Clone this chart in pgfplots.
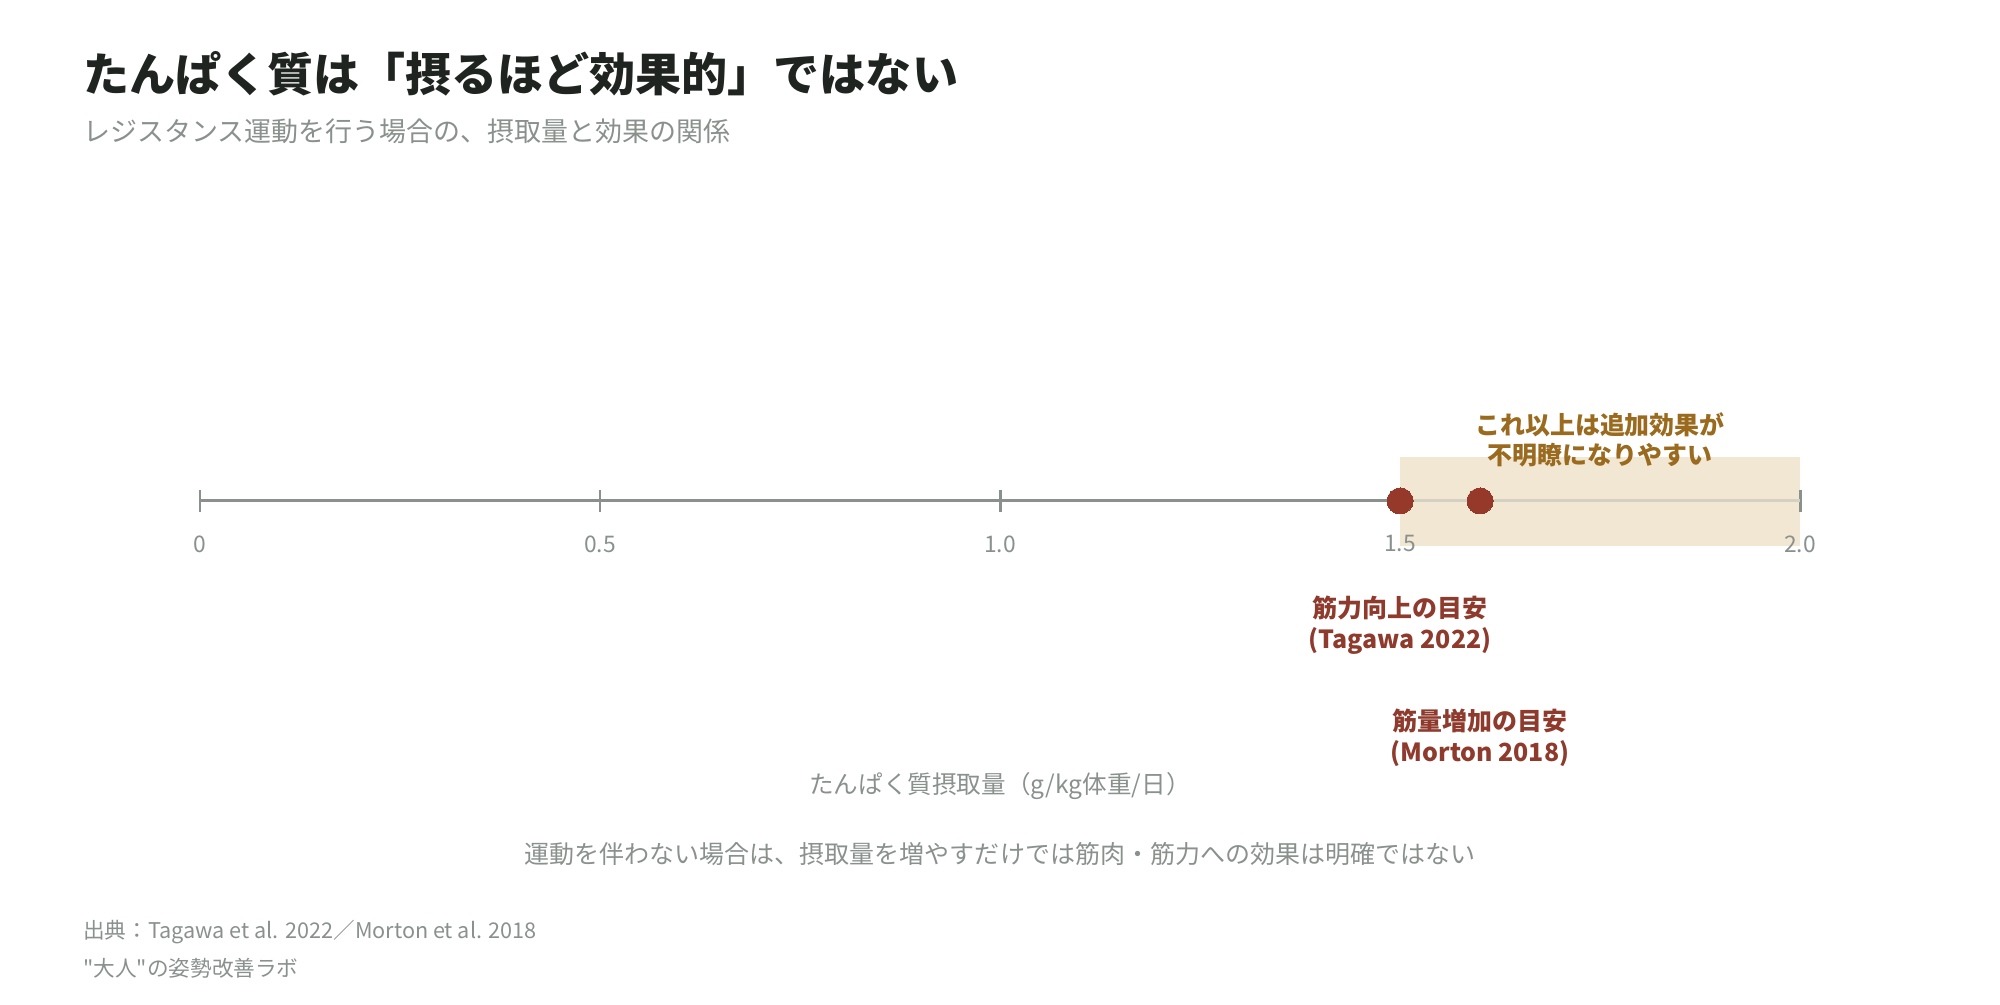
\documentclass[border=0pt]{standalone}
\usepackage{pgfplots}
\pgfplotsset{compat=1.18}
\usepackage{fontspec}
\setmainfont{Noto Sans CJK JP}
\newfontfamily\jpraw{Noto Sans CJK JP}

\definecolor{titlec}{HTML}{1F2420}
\definecolor{greyc}{HTML}{8A918D}
\definecolor{linec}{HTML}{8A918D}
\definecolor{lightline}{HTML}{D5D0C4}
\definecolor{bandc}{HTML}{F2E7D3}
\definecolor{dotc}{HTML}{96392B}
\definecolor{goldc}{HTML}{9A6A1E}
\definecolor{redc}{HTML}{8E3B2D}

% 1 px of the 2000x1004 picture = 0.01cm
\newcommand{\fs}[1]{\fontsize{#1}{1.3\dimexpr#1\relax}\selectfont}

\begin{document}
\begin{tikzpicture}
\begin{axis}[
    name=ax,
    set layers,
    scale only axis,
    width=20cm, height=10.04cm,
    xmin=-0.25, xmax=2.25,
    ymin=-503, ymax=501,
    axis x line=middle,
    axis y line=none,
    x axis line style={draw=none},
    xtick={0,0.5,1,1.5,2},
    xticklabels={0,0.5,1.0,1.5,2.0},
    tick align=center,
    major tick length=0.22cm,
    tick style={linec, line width=0.85pt},
    xticklabel style={anchor=center, yshift=-0.32cm, text=greyc, font=\fs{6.5pt}},
    /pgf/number format/assume math mode=true,
    clip=false,
]
% shaded band 1.5-2.0
\addplot[fill=bandc, draw=none, on layer=axis background] coordinates {(1.5,44) (2,44) (2,-45) (1.5,-45)} -- cycle;
% number line
\addplot[linec, line width=0.85pt] coordinates {(0,0) (1.5,0)};
\addplot[lightline, line width=0.85pt] coordinates {(1.5,0) (2,0)};
% guideline points
\addplot[only marks, color=dotc, mark=*, mark size=0.13cm, mark options={fill=dotc, draw=dotc, line width=0pt}] coordinates {(1.5,0) (1.6,0)};

% titles
\node[anchor=west, text=titlec, font=\fs{13.1pt}\bfseries, inner sep=0] at (axis cs:-0.1468,427) {たんぱく質は「摂るほど効果的」ではない};
\node[anchor=west, text=greyc, font=\fs{7.68pt}, inner sep=0] at (axis cs:-0.1468,370) {レジスタンス運動を行う場合の、摂取量と効果の関係};

% annotations
\node[align=center, text=goldc, font=\fs{7.1pt}\bfseries, inner sep=0] at (axis cs:1.75,61) {これ以上は追加効果が\\[-0.5pt]不明瞭になりやすい};
\node[align=center, text=redc, font=\fs{7.1pt}\bfseries, inner sep=0] at (axis cs:1.5,-124) {筋力向上の目安\\[-0.5pt](Tagawa 2022)};
\node[align=center, text=redc, font=\fs{7.1pt}\bfseries, inner sep=0] at (axis cs:1.6,-237) {筋量増加の目安\\[-0.5pt](Morton 2018)};

% axis label and note
\node[text=greyc, font=\fs{7.0pt}, inner sep=0] at (axis cs:1.0,-285) {たんぱく質摂取量（g/kg体重/日）};
\node[text=greyc, font=\fs{7.12pt}, inner sep=0] at (axis cs:1.0,-353) {運動を伴わない場合は、摂取量を増やすだけでは筋肉・筋力への効果は明確ではない};

% source
\node[anchor=west, text=greyc, font=\fs{6.16pt}, inner sep=0] at (axis cs:-0.1468,-431) {出典：Tagawa et al. 2022／Morton et al. 2018};
\node[anchor=west, text=greyc, font=\fs{6.16pt}\jpraw, inner sep=0] at (axis cs:-0.1468,-467) {"大人"の姿勢改善ラボ};
\end{axis}
\pgfresetboundingbox
\path (ax.south west) rectangle (ax.north east);
\end{tikzpicture}
\end{document}
